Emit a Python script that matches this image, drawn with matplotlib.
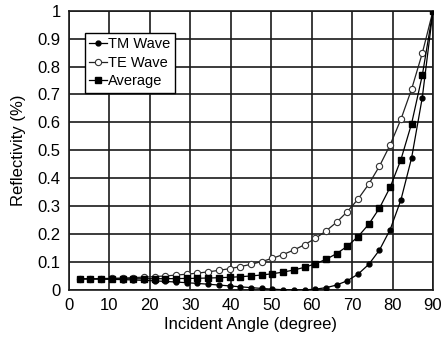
import matplotlib
matplotlib.use("Agg")
import matplotlib.pyplot as plt

angles = [2.65, 5.29, 7.94, 10.59, 13.24, 15.88, 18.53, 21.18, 23.82, 26.47,
          29.12, 31.76, 34.41, 37.06, 39.71, 42.35, 45.0, 47.65, 50.29, 52.94,
          55.59, 58.24, 60.88, 63.53, 66.18, 68.82, 71.47, 74.12, 76.76, 79.41,
          82.06, 84.71, 87.35, 90.0]
tm_wave = [0.0399, 0.0395, 0.0390, 0.0382, 0.0371, 0.0359, 0.0344, 0.0327, 0.0307, 0.0285,
           0.0261, 0.0235, 0.0207, 0.0177, 0.0146, 0.0115, 0.0085, 0.0056, 0.0030, 0.0011,
           0.0001, 0.0004, 0.0029, 0.0083, 0.0178, 0.0332, 0.0568, 0.0918, 0.1429, 0.2165,
           0.3220, 0.4729, 0.6890, 1.0]
te_wave = [0.0401, 0.0405, 0.0410, 0.0419, 0.0430, 0.0443, 0.0460, 0.0480, 0.0504, 0.0533,
           0.0566, 0.0604, 0.0650, 0.0703, 0.0764, 0.0836, 0.0920, 0.1019, 0.1135, 0.1270,
           0.1431, 0.1620, 0.1845, 0.2111, 0.2428, 0.2806, 0.3256, 0.3792, 0.4433, 0.5197,
           0.6108, 0.7191, 0.8477, 1.0]
average = [(a + b) / 2 for a, b in zip(tm_wave, te_wave)]

xticks = [0, 10, 20, 30, 40, 50, 60, 70, 80, 90]
xtick_labels = ["0", "10", "20", "30", "40", "50", "60", "70", "80", "90"]
yticks = [0, 0.1, 0.2, 0.3, 0.4, 0.5, 0.6, 0.7, 0.8, 0.9, 1.0]
ytick_labels = ["0", "0.1", "0.2", "0.3", "0.4", "0.5", "0.6", "0.7", "0.8", "0.9", "1"]

plt.rcParams['font.family'] = ['Liberation Sans', 'DejaVu Sans']

fig = plt.figure(figsize=(4.41, 3.42), dpi=100)
ax = fig.add_axes([69 / 441, 1 - 290 / 342, (433 - 69) / 441, (290 - 10.7) / 342])

ax.plot(angles, tm_wave, color='black', lw=0.9, marker='o', markersize=3.5,
        markerfacecolor='black', markeredgecolor='black', label='TM Wave', zorder=3)
ax.plot(angles, te_wave, color='#222222', lw=0.9, marker='o', markersize=4.5,
        markerfacecolor='white', markeredgecolor='#333333', markeredgewidth=0.8,
        label='TE Wave', zorder=3)
ax.plot(angles, average, color='black', lw=0.9, marker='s', markersize=5,
        markerfacecolor='black', markeredgecolor='black', label='Average', zorder=3)

ax.set_xlim(0, 90)
ax.set_ylim(0, 1)
ax.set_xticks(xticks)
ax.set_xticklabels(xtick_labels)
ax.set_yticks(yticks)
ax.set_yticklabels(ytick_labels)
ax.tick_params(length=0, labelsize=12, pad=6)
ax.grid(True, color='#1a1a1a', lw=1.2)
ax.set_axisbelow(True)
for s in ax.spines.values():
    s.set_color('#1a1a1a')
    s.set_linewidth(1.2)

ax.set_xlabel('Incident Angle (degree)', fontsize=12, labelpad=3)
ax.set_ylabel('Reflectivity (%)', fontsize=12, labelpad=8)

leg = ax.legend(loc='upper left', bbox_to_anchor=(0.043, 0.92), fontsize=10.5,
                frameon=True, fancybox=False, edgecolor='black', framealpha=1,
                handlelength=1.2, handletextpad=0.1, borderpad=0.3,
                labelspacing=0.3, borderaxespad=0)
leg.get_frame().set_linewidth(1.0)

fig.savefig('out.png', dpi=100)
